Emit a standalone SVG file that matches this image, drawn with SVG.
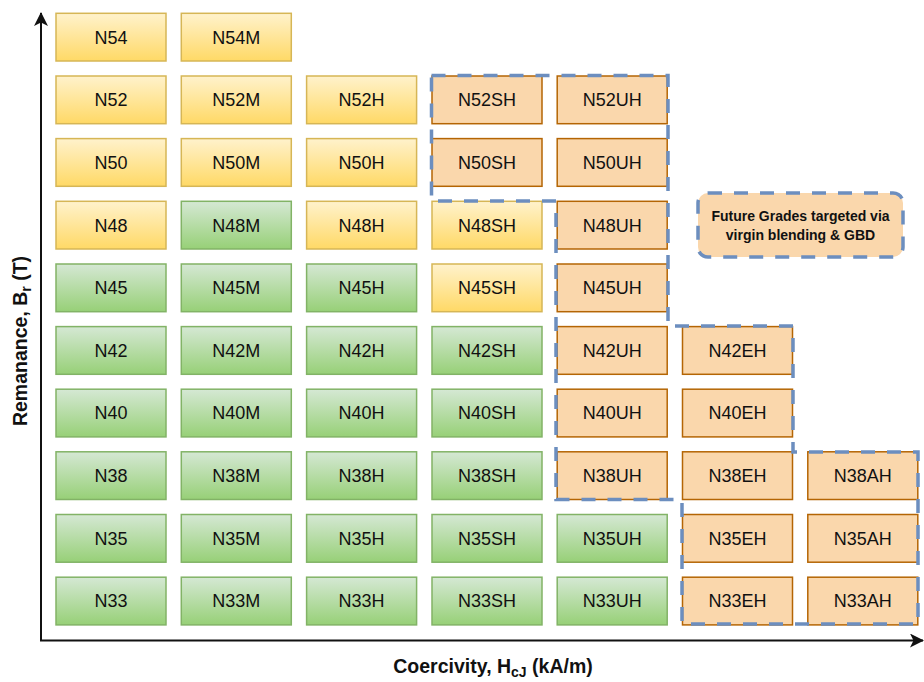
<svg xmlns="http://www.w3.org/2000/svg" width="924" height="682" viewBox="0 0 924 682">
<defs>
<linearGradient id="gy" x1="0" y1="0" x2="0" y2="1"><stop offset="0" stop-color="#fff2cc"/><stop offset="1" stop-color="#ffd966"/></linearGradient>
<linearGradient id="gg" x1="0" y1="0" x2="0" y2="1"><stop offset="0" stop-color="#d5e8d4"/><stop offset="1" stop-color="#97d077"/></linearGradient>
<marker id="arr" viewBox="0 0 14 14" refX="13" refY="7" markerWidth="14" markerHeight="14" markerUnits="userSpaceOnUse" orient="auto">
<path d="M0,0 L14,7 L0,14 L3.5,7 Z" fill="#111"/>
</marker>
<style>
.y{fill:url(#gy);stroke:#d6b656;stroke-width:1.5}
.g{fill:url(#gg);stroke:#82b366;stroke-width:1.5}
.o{fill:#fad7ac;stroke:#b46504;stroke-width:1.5}
.t{font-family:"Liberation Sans",Arial,sans-serif;font-size:18px;fill:#111;text-anchor:middle}
.ax{font-family:"Liberation Sans",Arial,sans-serif;font-size:19.5px;font-weight:bold;fill:#111;text-anchor:middle}
.dash{fill:none;stroke:#6c8ebf;stroke-width:3.5;stroke-dasharray:14 12}
</style>
</defs>
<rect width="924" height="682" fill="#fff"/>

<g id="connectors">
<line x1="41" y1="641" x2="41" y2="13" stroke="#111" stroke-width="2" marker-end="url(#arr)"/>
<line x1="40" y1="640.5" x2="923" y2="640.5" stroke="#111" stroke-width="2" marker-end="url(#arr)"/>
</g>

<g id="axis-y"><text class="ax" transform="translate(27,341) rotate(-90)">Remanance, B<tspan font-size="14" dy="4">r</tspan><tspan dy="-4"> (T)</tspan></text></g>
<g id="axis-x"><text class="ax" x="493" y="673">Coercivity, H<tspan font-size="14" dy="4">cJ</tspan><tspan dy="-4"> (kA/m)</tspan></text></g>

<g id="future"><rect x="698" y="193" width="205" height="64" rx="10" class="dash" style="fill:#fad7ac"/>
<text font-family="'Liberation Sans',Arial,sans-serif" font-size="14" font-weight="bold" fill="#111" text-anchor="middle"><tspan x="800.5" y="221">Future Grades targeted via</tspan><tspan x="800.5" y="240">virgin blending &amp; GBD</tspan></text></g>

<g id="N54"><rect class="y" x="56" y="13.3" width="110" height="47.7"/><text class="t" x="111" y="43.5">N54</text></g>
<g id="N54M"><rect class="y" x="181.3" y="13.3" width="110" height="47.7"/><text class="t" x="236.3" y="43.5">N54M</text></g>

<g id="N52"><rect class="y" x="56" y="76" width="110" height="47.7"/><text class="t" x="111" y="106.2">N52</text></g>
<g id="N52M"><rect class="y" x="181.3" y="76" width="110" height="47.7"/><text class="t" x="236.3" y="106.2">N52M</text></g>
<g id="N52H"><rect class="y" x="306.6" y="76" width="110" height="47.7"/><text class="t" x="361.6" y="106.2">N52H</text></g>
<g id="N52SH"><rect class="o" x="432" y="76" width="110" height="47.7"/><text class="t" x="487" y="106.2">N52SH</text></g>
<g id="N52UH"><rect class="o" x="557.2" y="76" width="110" height="47.7"/><text class="t" x="612.2" y="106.2">N52UH</text></g>

<g id="N50"><rect class="y" x="56" y="138.6" width="110" height="47.7"/><text class="t" x="111" y="168.8">N50</text></g>
<g id="N50M"><rect class="y" x="181.3" y="138.6" width="110" height="47.7"/><text class="t" x="236.3" y="168.8">N50M</text></g>
<g id="N50H"><rect class="y" x="306.6" y="138.6" width="110" height="47.7"/><text class="t" x="361.6" y="168.8">N50H</text></g>
<g id="N50SH"><rect class="o" x="432" y="138.6" width="110" height="47.7"/><text class="t" x="487" y="168.8">N50SH</text></g>
<g id="N50UH"><rect class="o" x="557.2" y="138.6" width="110" height="47.7"/><text class="t" x="612.2" y="168.8">N50UH</text></g>

<g id="N48"><rect class="y" x="56" y="201.3" width="110" height="47.7"/><text class="t" x="111" y="231.5">N48</text></g>
<g id="N48M"><rect class="g" x="181.3" y="201.3" width="110" height="47.7"/><text class="t" x="236.3" y="231.5">N48M</text></g>
<g id="N48H"><rect class="y" x="306.6" y="201.3" width="110" height="47.7"/><text class="t" x="361.6" y="231.5">N48H</text></g>
<g id="N48SH"><rect class="y" x="432" y="201.3" width="110" height="47.7"/><text class="t" x="487" y="231.5">N48SH</text></g>
<g id="N48UH"><rect class="o" x="557.2" y="201.3" width="110" height="47.7"/><text class="t" x="612.2" y="231.5">N48UH</text></g>

<g id="N45"><rect class="g" x="56" y="264" width="110" height="47.7"/><text class="t" x="111" y="294.2">N45</text></g>
<g id="N45M"><rect class="g" x="181.3" y="264" width="110" height="47.7"/><text class="t" x="236.3" y="294.2">N45M</text></g>
<g id="N45H"><rect class="g" x="306.6" y="264" width="110" height="47.7"/><text class="t" x="361.6" y="294.2">N45H</text></g>
<g id="N45SH"><rect class="y" x="432" y="264" width="110" height="47.7"/><text class="t" x="487" y="294.2">N45SH</text></g>
<g id="N45UH"><rect class="o" x="557.2" y="264" width="110" height="47.7"/><text class="t" x="612.2" y="294.2">N45UH</text></g>

<g id="N42"><rect class="g" x="56" y="326.6" width="110" height="47.7"/><text class="t" x="111" y="356.8">N42</text></g>
<g id="N42M"><rect class="g" x="181.3" y="326.6" width="110" height="47.7"/><text class="t" x="236.3" y="356.8">N42M</text></g>
<g id="N42H"><rect class="g" x="306.6" y="326.6" width="110" height="47.7"/><text class="t" x="361.6" y="356.8">N42H</text></g>
<g id="N42SH"><rect class="g" x="432" y="326.6" width="110" height="47.7"/><text class="t" x="487" y="356.8">N42SH</text></g>
<g id="N42UH"><rect class="o" x="557.2" y="326.6" width="110" height="47.7"/><text class="t" x="612.2" y="356.8">N42UH</text></g>
<g id="N42EH"><rect class="o" x="682.5" y="326.6" width="110" height="47.7"/><text class="t" x="737.5" y="356.8">N42EH</text></g>

<g id="N40"><rect class="g" x="56" y="389.2" width="110" height="47.7"/><text class="t" x="111" y="419.4">N40</text></g>
<g id="N40M"><rect class="g" x="181.3" y="389.2" width="110" height="47.7"/><text class="t" x="236.3" y="419.4">N40M</text></g>
<g id="N40H"><rect class="g" x="306.6" y="389.2" width="110" height="47.7"/><text class="t" x="361.6" y="419.4">N40H</text></g>
<g id="N40SH"><rect class="g" x="432" y="389.2" width="110" height="47.7"/><text class="t" x="487" y="419.4">N40SH</text></g>
<g id="N40UH"><rect class="o" x="557.2" y="389.2" width="110" height="47.7"/><text class="t" x="612.2" y="419.4">N40UH</text></g>
<g id="N40EH"><rect class="o" x="682.5" y="389.2" width="110" height="47.7"/><text class="t" x="737.5" y="419.4">N40EH</text></g>

<g id="N38"><rect class="g" x="56" y="451.8" width="110" height="47.7"/><text class="t" x="111" y="482">N38</text></g>
<g id="N38M"><rect class="g" x="181.3" y="451.8" width="110" height="47.7"/><text class="t" x="236.3" y="482">N38M</text></g>
<g id="N38H"><rect class="g" x="306.6" y="451.8" width="110" height="47.7"/><text class="t" x="361.6" y="482">N38H</text></g>
<g id="N38SH"><rect class="g" x="432" y="451.8" width="110" height="47.7"/><text class="t" x="487" y="482">N38SH</text></g>
<g id="N38UH"><rect class="o" x="557.2" y="451.8" width="110" height="47.7"/><text class="t" x="612.2" y="482">N38UH</text></g>
<g id="N38EH"><rect class="o" x="682.5" y="451.8" width="110" height="47.7"/><text class="t" x="737.5" y="482">N38EH</text></g>
<g id="N38AH"><rect class="o" x="807.8" y="451.8" width="110" height="47.7"/><text class="t" x="862.8" y="482">N38AH</text></g>

<g id="N35"><rect class="g" x="56" y="514.5" width="110" height="47.7"/><text class="t" x="111" y="544.7">N35</text></g>
<g id="N35M"><rect class="g" x="181.3" y="514.5" width="110" height="47.7"/><text class="t" x="236.3" y="544.7">N35M</text></g>
<g id="N35H"><rect class="g" x="306.6" y="514.5" width="110" height="47.7"/><text class="t" x="361.6" y="544.7">N35H</text></g>
<g id="N35SH"><rect class="g" x="432" y="514.5" width="110" height="47.7"/><text class="t" x="487" y="544.7">N35SH</text></g>
<g id="N35UH"><rect class="g" x="557.2" y="514.5" width="110" height="47.7"/><text class="t" x="612.2" y="544.7">N35UH</text></g>
<g id="N35EH"><rect class="o" x="682.5" y="514.5" width="110" height="47.7"/><text class="t" x="737.5" y="544.7">N35EH</text></g>
<g id="N35AH"><rect class="o" x="807.8" y="514.5" width="110" height="47.7"/><text class="t" x="862.8" y="544.7">N35AH</text></g>

<g id="N33"><rect class="g" x="56" y="577.2" width="110" height="47.7"/><text class="t" x="111" y="607.4">N33</text></g>
<g id="N33M"><rect class="g" x="181.3" y="577.2" width="110" height="47.7"/><text class="t" x="236.3" y="607.4">N33M</text></g>
<g id="N33H"><rect class="g" x="306.6" y="577.2" width="110" height="47.7"/><text class="t" x="361.6" y="607.4">N33H</text></g>
<g id="N33SH"><rect class="g" x="432" y="577.2" width="110" height="47.7"/><text class="t" x="487" y="607.4">N33SH</text></g>
<g id="N33UH"><rect class="g" x="557.2" y="577.2" width="110" height="47.7"/><text class="t" x="612.2" y="607.4">N33UH</text></g>
<g id="N33EH"><rect class="o" x="682.5" y="577.2" width="110" height="47.7"/><text class="t" x="737.5" y="607.4">N33EH</text></g>
<g id="N33AH"><rect class="o" x="807.8" y="577.2" width="110" height="47.7"/><text class="t" x="862.8" y="607.4">N33AH</text></g>

<g id="group-outline">
<path class="dash" d="M431.5,75.5 H668 V326 H793 V452 H918 V624 H682 V499.5 H556 V201 H431.5 Z"/>
</g>
</svg>
